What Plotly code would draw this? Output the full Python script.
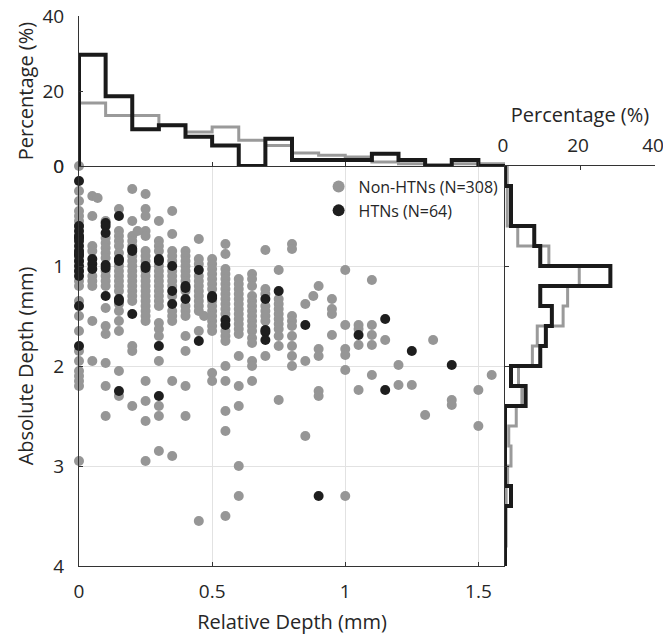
import plotly.graph_objects as go

# ---------------- data ----------------
# Scatter: relative depth (mm) -> list of absolute depths (mm)
nonhtn_depths_by_rel = {
    0.00: [0.0, 0.25, 0.35, 0.45, 0.5, 0.55, 0.6, 0.7, 0.85, 0.95, 1.05, 1.15, 1.2, 1.35, 1.5, 1.65, 1.85, 1.95, 2.05, 2.1, 2.15, 2.2, 2.95],
    0.05: [0.3, 0.5, 0.8, 0.85, 1.1, 1.15, 1.2, 1.55, 1.95],
    0.07: [0.32],
    0.10: [0.55, 0.72, 0.77, 0.82, 0.87, 0.92, 1.05, 1.1, 1.15, 1.2, 1.42, 1.6, 1.68, 1.97, 2.2, 2.5],
    0.15: [0.43, 0.65, 0.7, 0.75, 0.8, 0.87, 1.0, 1.05, 1.1, 1.15, 1.2, 1.25, 1.38, 1.45, 1.55, 1.65, 2.05, 2.3],
    0.20: [0.23, 0.55, 0.7, 0.75, 0.8, 0.9, 0.95, 1.0, 1.05, 1.1, 1.15, 1.2, 1.25, 1.3, 1.35, 1.8, 1.85, 2.4],
    0.22: [0.65],
    0.25: [0.28, 0.43, 0.5, 0.65, 0.7, 0.85, 0.9, 0.95, 1.05, 1.1, 1.15, 1.2, 1.25, 1.3, 1.35, 1.4, 1.45, 1.5, 1.55, 2.15, 2.35, 2.55, 2.95],
    0.30: [0.55, 0.75, 0.8, 0.85, 1.0, 1.05, 1.1, 1.15, 1.2, 1.25, 1.3, 1.35, 1.4, 1.57, 1.63, 1.7, 1.95, 2.4, 2.5, 2.85],
    0.35: [0.45, 0.68, 0.85, 0.9, 0.95, 1.05, 1.1, 1.15, 1.2, 1.3, 1.45, 1.5, 1.55, 2.15, 2.9],
    0.40: [0.85, 0.9, 0.95, 1.0, 1.05, 1.1, 1.15, 1.25, 1.4, 1.45, 1.5, 1.7, 1.85, 2.2, 2.5],
    0.45: [0.73, 0.93, 0.98, 1.1, 1.15, 1.2, 1.25, 1.3, 1.35, 1.4, 1.45, 1.65, 3.55],
    0.47: [1.5],
    0.50: [0.93, 0.98, 1.03, 1.08, 1.13, 1.18, 1.23, 1.35, 1.4, 1.45, 1.5, 1.55, 1.6, 1.65, 2.07, 2.15],
    0.55: [0.78, 0.88, 1.03, 1.08, 1.13, 1.18, 1.23, 1.28, 1.33, 1.38, 1.43, 1.48, 1.65, 1.7, 1.75, 2.0, 2.15, 2.45, 2.65, 3.5],
    0.60: [1.13, 1.18, 1.23, 1.28, 1.33, 1.38, 1.43, 1.48, 1.53, 1.58, 1.63, 1.68, 1.9, 2.2, 2.4, 3.0, 3.3],
    0.65: [1.08, 1.13, 1.2, 1.3, 1.35, 1.4, 1.45, 1.5, 1.55, 1.6, 1.65, 1.72, 1.77, 1.95, 2.0, 2.15],
    0.70: [0.84, 1.23, 1.28, 1.4, 1.45, 1.5, 1.55, 1.9],
    0.75: [1.04, 1.33, 1.38, 1.43, 1.48, 1.53, 1.58, 1.63, 1.7, 1.8, 2.34],
    0.80: [0.78, 0.83, 1.5, 1.55, 1.6, 1.7, 1.8, 1.9, 2.0],
    0.85: [1.38, 1.95, 2.7],
    0.88: [1.3],
    0.90: [1.2, 1.83, 1.9, 2.25, 2.3],
    0.95: [1.33, 1.43, 1.48, 1.69],
    1.00: [1.04, 1.59, 1.83, 1.89, 2.04, 3.3],
    1.05: [1.59, 1.63, 1.79, 2.24],
    1.10: [1.14, 1.59, 1.69, 1.79, 2.09],
    1.15: [1.74],
    1.20: [1.99, 2.19],
    1.25: [2.19],
    1.30: [2.49],
    1.33: [1.74],
    1.40: [2.34, 2.39],
    1.50: [2.24, 2.6],
    1.55: [2.09],
}
htn_depths_by_rel = {
    0.00: [0.15, 0.6, 0.65, 0.7, 0.72, 0.75, 0.8, 0.85, 0.88, 0.9, 0.95, 1.0, 1.05, 1.1, 1.4, 1.8],
    0.05: [0.93, 0.98, 1.03],
    0.10: [0.57, 0.6, 0.67, 0.99, 1.02, 1.3],
    0.15: [0.5, 0.93, 0.95, 1.33, 1.35, 2.25],
    0.20: [0.83, 0.85, 1.48],
    0.25: [1.0, 1.02],
    0.30: [0.93, 0.95, 1.8, 2.3],
    0.35: [1.0, 1.25, 1.38],
    0.40: [1.2, 1.22, 1.33],
    0.45: [1.04, 1.75],
    0.50: [1.3, 1.32],
    0.55: [1.54, 1.59],
    0.70: [1.33, 1.64, 1.66, 1.74],
    0.75: [1.25],
    0.85: [1.59],
    0.90: [3.3],
    1.05: [1.69],
    1.15: [1.53, 2.24],
    1.25: [1.85],
    1.40: [1.99],
}

# Top histogram: relative depth bins (mm), percentage
rel_bin_edges = [0.0, 0.1, 0.2, 0.3, 0.4, 0.5, 0.6, 0.7, 0.8, 0.9, 1.0, 1.1, 1.2, 1.3, 1.4, 1.5, 1.6]
rel_pct_nonhtn = [16.8, 13.5, 13.5, 10.9, 9.1, 10.4, 6.9, 5.5, 3.5, 2.9, 2.4, 1.1, 0.6, 0.4, 0.6, 0.6]
rel_pct_htn = [29.7, 18.6, 9.8, 10.9, 7.8, 5.5, 0.0, 7.3, 1.6, 1.6, 1.6, 3.3, 1.6, 0.0, 1.6, 0.0]

# Right histogram: absolute depth bins (mm), percentage
abs_bin_edges = [0.0, 0.2, 0.4, 0.6, 0.8, 1.0, 1.2, 1.4, 1.6, 1.8, 2.0, 2.2, 2.4, 2.6, 2.8, 3.0, 3.2, 3.4, 3.6, 3.8, 4.0]
abs_pct_nonhtn = [0.6, 0.6, 0.6, 3.4, 11.7, 19.8, 16.7, 15.5, 8.6, 7.3, 3.6, 4.5, 3.0, 1.0, 1.6, 0.7, 0.3, 0.3, 0.3, 0.0]
abs_pct_htn = [0.0, 1.6, 1.6, 7.8, 9.4, 28.1, 9.4, 12.5, 10.9, 9.4, 1.6, 5.5, 0.0, 0.0, 0.0, 0.0, 1.6, 0.0, 0.0, 0.0]

x_ticks = [0, 0.5, 1, 1.5]
y_ticks = [0, 1, 2, 3, 4]
pct_ticks = [0, 20, 40]

# ---------------- styling ----------------
GREY_PT = "#969696"
BLACK_PT = "#1e1e1e"
GREY_LN = "#9a9a9a"
BLACK_LN = "#1a1a1a"
AX = "#333333"
GRID = "#e2e2e2"
FONT = "Open Sans"
TXT = "#262626"


def flatten(d):
    xs, ys = [], []
    for k, v in d.items():
        for dep in v:
            xs.append(k)
            ys.append(dep)
    return xs, ys


def step_top(edges, vals):
    xs = [edges[0]] + edges[:-1] + [edges[-1], edges[-1]]
    ys = [0] + vals + [vals[-1], 0]
    return xs, ys


def step_right(edges, vals):
    ys = [edges[0]] + edges[:-1] + [edges[-1], edges[-1]]
    xs = [0] + vals + [vals[-1], 0]
    return xs, ys


fig = go.Figure()

gx, gy = flatten(nonhtn_depths_by_rel)
bx, by = flatten(htn_depths_by_rel)

fig.add_trace(go.Scatter(x=gx, y=gy, mode="markers", name="Non-HTNs (N=308)",
                         marker=dict(color=GREY_PT, size=10, line=dict(width=0)),
                         cliponaxis=False, xaxis="x", yaxis="y"))
fig.add_trace(go.Scatter(x=bx, y=by, mode="markers", name="HTNs (N=64)",
                         marker=dict(color=BLACK_PT, size=10, line=dict(width=0)),
                         cliponaxis=False, xaxis="x", yaxis="y"))

tx, ty = step_top(rel_bin_edges, rel_pct_nonhtn)
fig.add_trace(go.Scatter(x=tx, y=ty, mode="lines", line=dict(color=GREY_LN, width=3, shape="hv"),
                         showlegend=False, cliponaxis=False, xaxis="x2", yaxis="y2"))
tx, ty = step_top(rel_bin_edges, rel_pct_htn)
fig.add_trace(go.Scatter(x=tx, y=ty, mode="lines", line=dict(color=BLACK_LN, width=4, shape="hv"),
                         showlegend=False, cliponaxis=False, xaxis="x2", yaxis="y2"))

rx, ry = step_right(abs_bin_edges, abs_pct_nonhtn)
fig.add_trace(go.Scatter(x=rx, y=ry, mode="lines", line=dict(color=GREY_LN, width=3, shape="vh"),
                         showlegend=False, cliponaxis=False, xaxis="x3", yaxis="y3"))
rx, ry = step_right(abs_bin_edges, abs_pct_htn)
fig.add_trace(go.Scatter(x=rx, y=ry, mode="lines", line=dict(color=BLACK_LN, width=4, shape="vh"),
                         showlegend=False, cliponaxis=False, xaxis="x3", yaxis="y3"))

# page body margin is removed (post_script), so figure coords == page coords
W, H = 663, 635
ML, MR, MT, MB = 79, 8, 16, 69
PW, PH = W - ML - MR, H - MT - MB
XS = (505 - ML) / PW          # split between main plot and right histogram
YS = (566 - 166) / PH         # split between main plot and top histogram

tickfont = dict(family=FONT, size=19, color=TXT)
titlefont = dict(family=FONT, size=20, color=TXT)
common = dict(showline=True, linecolor=AX, linewidth=1, ticks="inside", ticklen=4,
              tickcolor=AX, zeroline=False, tickfont=tickfont, automargin=False,
              ticklabeloverflow="allow")

fig.update_layout(
    width=W, height=H,
    margin=dict(l=ML, r=MR, t=MT, b=MB),
    paper_bgcolor="white", plot_bgcolor="white",
    font=dict(family=FONT, color=TXT),
    xaxis=dict(domain=[0, XS], range=[0, 1.6], tickvals=x_ticks, ticktext=["0", "0.5", "1", "1.5"],
               showgrid=True, gridcolor=GRID, gridwidth=1, anchor="y", ticklabelstandoff=8,
               title=dict(text="Relative Depth (mm)", font=titlefont, standoff=12), **common),
    yaxis=dict(domain=[0, YS], range=[4, 0], tickvals=y_ticks, showgrid=True, gridcolor=GRID,
               gridwidth=1, anchor="x", ticklabelstandoff=10,
               title=dict(text="Absolute Depth (mm)", font=titlefont, standoff=14), **common),
    xaxis2=dict(domain=[0, XS], range=[0, 1.6], tickvals=[0.5, 1, 1.5], showticklabels=False,
                showgrid=False, anchor="y2", **common),
    yaxis2=dict(domain=[YS, 1], range=[0, 40], tickvals=pct_ticks, showgrid=False, anchor="x2",
                ticklabelstandoff=10,
                title=dict(text="Percentage (%)", font=titlefont, standoff=3), **common),
    xaxis3=dict(domain=[XS, 1], range=[0, 40], tickvals=pct_ticks, side="top", showgrid=False,
                anchor="y3", ticklabelstandoff=5, ticklabelshift=-2,
                title=dict(text="Percentage (%)", font=titlefont, standoff=4), **common),
    yaxis3=dict(domain=[0, YS], range=[4, 0], tickvals=[1, 2, 3], showticklabels=False,
                showgrid=False, anchor="x3", **common),
    legend=dict(x=0.416, y=0.7206, xanchor="left", yanchor="top", bgcolor="rgba(0,0,0,0)",
                font=dict(family=FONT, size=16, color=TXT), itemsizing="constant",
                tracegroupgap=0),
    showlegend=True,
)

fig.write_html("out.html", config={"displayModeBar": False},
               post_script="document.body.style.margin='0px';document.body.style.overflow='hidden';")
